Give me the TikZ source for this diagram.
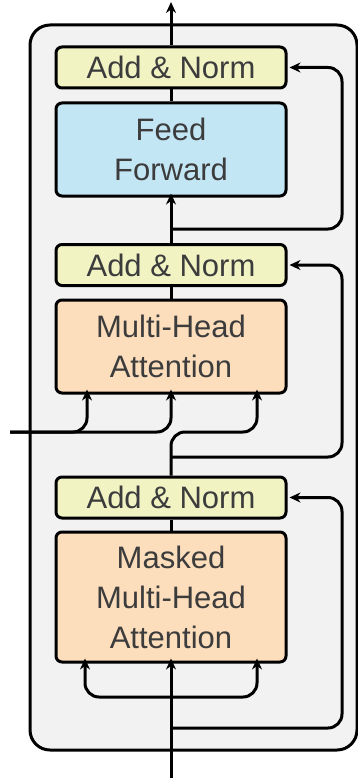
\documentclass[tikz,border=0pt]{standalone}
\usepackage{fontspec}
\setmainfont{Liberation Sans}
\usetikzlibrary{arrows.meta}
\definecolor{bgfill}{HTML}{F2F2F2}
\definecolor{normfill}{HTML}{F1F3C3}
\definecolor{fffill}{HTML}{C3E6F5}
\definecolor{attfill}{HTML}{FCDDBC}
\definecolor{txt}{HTML}{3C3C3C}
\tikzset{
  blk/.style={draw=black, line width=3pt, rounded corners=6pt, minimum width=230pt,
    inner sep=0pt, align=center, text=txt, font=\fontsize{31}{40}\selectfont},
  normbox/.style={blk, fill=normfill, minimum height=41pt},
  ffbox/.style={blk, fill=fffill, minimum height=93pt},
  attbox/.style={blk, fill=attfill},
  conn/.style={line width=3pt},
  arr/.style={conn, -{Stealth[length=11pt,width=10pt]}},
  curvy/.style={rounded corners=14pt},
}
\begin{document}
\begin{tikzpicture}[x=1pt,y=-1pt]
\useasboundingbox (0,0) rectangle (358,778);
\draw[fill=bgfill, line width=3pt, rounded corners=20pt] (30,25) rectangle (357,750);

\node[normbox] (an1) at (171,67.5) {Add \& Norm};
\node[ffbox] (ff) at (171,149.5) {Feed\\Forward};
\node[normbox] (an2) at (171,265) {Add \& Norm};
\node[attbox, minimum height=93pt] (mha) at (171,346.5) {Multi-Head\\Attention};
\node[normbox] (an3) at (171,497.5) {Add \& Norm};
\node[attbox, minimum height=130pt] (mmha) at (171,597) {Masked\\Multi-Head\\Attention};

\coordinate (out) at (171,2);
\coordinate (encin) at (10,432);
\coordinate (decin) at (171,780);

% top block
\draw[arr] (an1.north) -- (out);
\draw[conn] (an1.south) -- (ff.north);
\draw[arr] (an2.north) -- ([yshift=4pt]ff.south);
\draw[arr, curvy] (171,229) -- (342,229) -- (342,67.5) -- ([xshift=2pt]an1.east);

% middle block
\draw[conn] (an2.south) -- (mha.north);
\draw[arr, curvy] (encin) -- (87,432) -- ([xshift=-84pt,yshift=5pt]mha.south);
\draw[arr, curvy] (encin) -- (171,432) -- ([yshift=5pt]mha.south);
\draw[arr, curvy] (an3.north) -- (171,432) -- (257,432) -- ([xshift=86pt,yshift=5pt]mha.south);
\draw[arr, curvy] (171,457) -- (342,457) -- (342,265) -- ([xshift=2pt]an2.east);

% bottom block
\draw[conn] (an3.south) -- (mmha.north);
\draw[arr] (decin) -- ([yshift=5pt]mmha.south);
\draw[arr, curvy] (171,697) -- (85,697) -- ([xshift=-86pt,yshift=5pt]mmha.south);
\draw[arr, curvy] (171,697) -- (257,697) -- ([xshift=86pt,yshift=5pt]mmha.south);
\draw[arr, curvy] (171,728) -- (342,728) -- (342,497.5) -- ([xshift=2pt]an3.east);
\end{tikzpicture}
\end{document}
